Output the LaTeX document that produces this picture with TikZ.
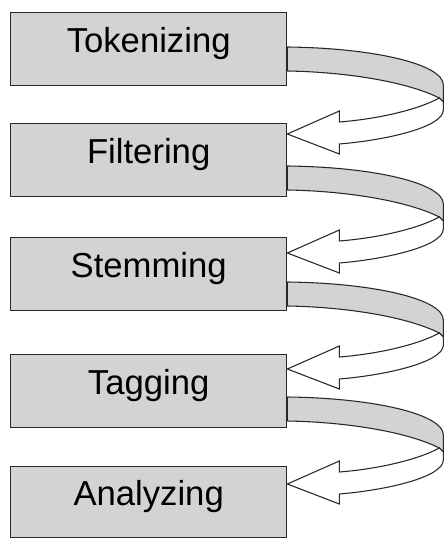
\documentclass[tikz,border=0pt]{standalone}
\usepackage{fontspec}
\setmainfont{Liberation Sans}
\usetikzlibrary{calc}
\definecolor{boxgray}{RGB}{211,211,211}
\definecolor{edgecol}{RGB}{40,40,40}
\newcommand\ribbonarrow[1]{%
  \begin{scope}[shift={(#1)}]
    \path[ribbonback] (0,0) .. controls (86,1) and (156,17) .. (156,38)
      -- (156,55) -- (152,51) .. controls (120,35) and (60,25) .. (0,24) -- cycle;
    \path[ribbonfront] (152,51) .. controls (130,63) and (90,72) .. (52,75)
      -- (52,64) -- (0,87) -- (52,107) -- (52,97)
      .. controls (100,93) and (156,80) .. (156,63) -- (156,55) -- cycle;
  \end{scope}}
\begin{document}
\begin{tikzpicture}[x=0.75pt,y=-0.75pt,
  stage/.style={draw=edgecol, line width=1pt, fill=boxgray, anchor=north west,
    minimum width=207pt, minimum height=54.75pt, inner sep=0pt,
    font=\fontsize{26}{31}\selectfont, text height=13pt, text depth=7.5pt},
  ribbonback/.style={fill=boxgray, draw=edgecol, line width=0.8pt, line join=round},
  ribbonfront/.style={fill=white, draw=edgecol, line width=0.8pt, line join=miter}]
\useasboundingbox (0,0) rectangle (443,538);
\node[stage] (tok) at (10,12) {Tokenizing};
\node[stage] (fil) at (10,123) {Filtering};
\node[stage] (ste) at (10,237) {Stemming};
\node[stage] (tag) at (10,354) {Tagging};
\node[stage, minimum height=53.25pt] (ana) at (10,466) {Analyzing};
\coordinate (r1) at ($(tok.north east)+(0,35)$);
\coordinate (r2) at ($(fil.north east)+(0,43)$);
\coordinate (r3) at ($(ste.north east)+(0,45)$);
\coordinate (r4) at ($(tag.north east)+(0,43)$);
\ribbonarrow{r1}
\ribbonarrow{r2}
\ribbonarrow{r3}
\ribbonarrow{r4}
\end{tikzpicture}
\end{document}
